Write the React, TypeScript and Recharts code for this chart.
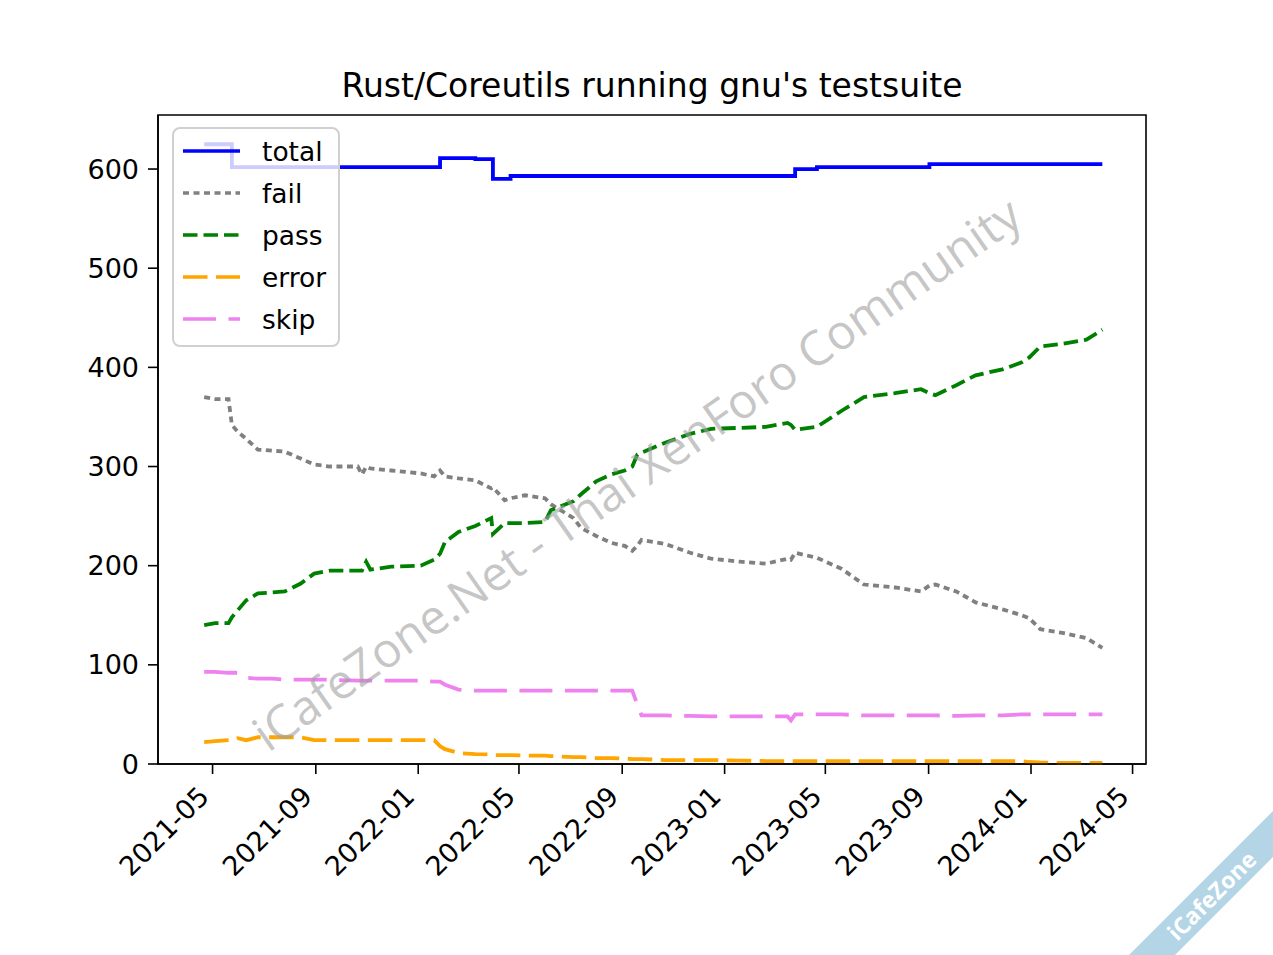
import { LineChart, Line, XAxis, YAxis, ReferenceArea } from "recharts";

const dates = [
  "2021-04-21", "2021-05-04", "2021-05-20", "2021-05-24", "2021-05-31", "2021-06-10",
  "2021-06-24", "2021-07-11", "2021-07-26", "2021-08-14", "2021-08-30", "2021-09-18",
  "2021-10-21", "2021-10-26", "2021-10-31", "2021-11-05", "2021-11-30", "2022-01-04",
  "2022-01-20", "2022-01-27", "2022-02-02", "2022-02-18", "2022-03-10", "2022-03-29",
  "2022-03-31", "2022-04-14", "2022-04-21", "2022-05-08", "2022-06-01", "2022-06-08",
  "2022-07-05", "2022-07-14", "2022-08-01", "2022-08-19", "2022-09-04", "2022-09-13",
  "2022-09-19", "2022-09-24", "2022-10-22", "2022-11-21", "2022-12-16", "2023-01-20",
  "2023-02-19", "2023-03-17", "2023-03-21", "2023-03-26", "2023-04-21", "2023-05-20",
  "2023-06-16", "2023-07-23", "2023-08-23", "2023-09-02", "2023-09-09", "2023-10-04",
  "2023-10-27", "2023-11-28", "2023-12-21", "2023-12-30", "2024-01-12", "2024-02-09",
  "2024-03-07", "2024-03-26",
];

const total = [
  625, 625, 625, 602, 602, 602, 602, 602, 602, 602, 602, 602, 602, 602, 602, 602, 602, 602,
  602, 611, 611, 611, 610, 610, 590, 590, 593, 593, 593, 593, 593, 593, 593, 593, 593, 593,
  593, 593, 593, 593, 593, 593, 593, 593, 593, 600, 602, 602, 602, 602, 602, 605, 605, 605,
  605, 605, 605, 605, 605, 605, 605, 605,
];

const fail = [
  370, 368, 368, 342, 335, 328, 317, 316, 315, 308, 302, 300, 300, 292, 300, 298, 296, 293,
  290, 296, 290, 288, 286, 278, 279, 266, 268, 271, 268, 262, 248, 238, 230, 223, 220, 215,
  220, 226, 222, 213, 207, 204, 202, 207, 206, 213, 208, 197, 181, 178, 174, 180, 181, 174,
  163, 156, 150, 147, 136, 132, 127, 117,
];

const pass = [
  140, 142, 142, 148, 155, 165, 172, 173, 174, 182, 192, 195, 195, 195, 204, 196, 199, 200,
  206, 212, 224, 234, 240, 248, 232, 243, 243, 243, 244, 256, 265, 272, 285, 292, 296, 300,
  312, 314, 324, 333, 338, 339, 340, 344, 342, 337, 340, 356, 370, 374, 378, 374, 372, 382,
  392, 398, 405, 410, 421, 424, 428, 438,
];

const error = [
  22, 23, 24, 24, 26, 24, 27, 27, 27, 27, 24, 24, 24, 24, 24, 24, 24, 24,
  24, 18, 15, 11, 10, 9.5, 9, 9, 9, 8.5, 8.5, 8, 7, 7, 6, 6, 5.5, 5,
  5, 5, 4, 4, 4, 3.5, 3, 3, 3, 3, 3, 3, 3, 3, 3, 3, 3, 3,
  3, 3, 3, 2, 1.5, 1, 1, 1,
];

const skip = [
  93, 93, 92, 92, 92, 87, 86, 86, 85, 85, 85, 85, 84, 84, 84, 84, 84, 84,
  83, 83, 80, 75, 74, 74, 74, 74, 74, 74, 74, 74, 74, 74, 74, 74, 74, 74,
  60, 49, 49, 48.5, 48, 48, 48, 48, 44, 50, 50, 50, 49, 49, 49, 49, 49, 48.5,
  49, 49, 50, 50, 50, 50, 50, 50,
];

const tickMonths = [
  "2021-05", "2021-09", "2022-01", "2022-05", "2022-09",
  "2023-01", "2023-05", "2023-09", "2024-01", "2024-05",
];
const yTicks = [0, 100, 200, 300, 400, 500, 600];

const data = dates.map((d, i) => ({
  t: Date.parse(d),
  total: total[i],
  fail: fail[i],
  pass: pass[i],
  error: error[i],
  skip: skip[i],
}));

const xTicks = tickMonths.map((m) => Date.parse(m + "-01"));
const xDomain = [Date.parse("2021-02-25"), Date.parse("2024-05-17")];
const yMax = 654.5;

const FONT = "'DejaVu Sans', sans-serif";

const series = [
  { key: "total", color: "#0000ff", dash: undefined },
  { key: "fail", color: "#808080", dash: "6 4.5" },
  { key: "pass", color: "#008000", dash: "14.5 6" },
  { key: "error", color: "#ffa500", dash: "24.5 8.5" },
  { key: "skip", color: "#ee82ee", dash: "33 12.5" },
];

function DateTick({ x, y, payload }: any) {
  const label = new Date(payload.value).toISOString().slice(0, 7);
  return (
    <text
      x={x - 2}
      y={y + 22}
      transform={`rotate(-45, ${x - 2}, ${y + 22})`}
      textAnchor="end"
      fontSize={27}
      fontFamily={FONT}
      fill="#000"
    >
      {label}
    </text>
  );
}

function LegendBox() {
  return (
    <svg width={170} height={222} style={{ position: "absolute", left: 171, top: 126 }}>
      <rect x={2} y={2} width={166} height={218} rx={7} fill="#fff" fillOpacity={0.8} stroke="#d0d0d0" strokeWidth={2} />
      {series.map((s, i) => (
        <g key={s.key}>
          <line
            x1={12}
            x2={69}
            y1={25 + i * 42}
            y2={25 + i * 42}
            stroke={s.color}
            strokeWidth={3.6}
            strokeDasharray={s.dash}
          />
          <text x={91} y={25 + i * 42 + 9.5} fontSize={26.5} fontFamily={FONT} fill="#000">
            {s.key}
          </text>
        </g>
      ))}
    </svg>
  );
}

export default function App() {
  return (
    <div style={{ position: "absolute", left: 0, top: 0, width: 1273, height: 955, background: "#fff" }}>
      <LineChart width={1273} height={955} data={data} margin={{ top: 115, right: 127, left: 0, bottom: 0 }}>
        <XAxis
          dataKey="t"
          type="number"
          domain={xDomain}
          ticks={xTicks}
          height={191}
          interval={0}
          tick={<DateTick />}
          tickSize={10}
          axisLine={{ stroke: "#000", strokeWidth: 1.6 }}
          tickLine={{ stroke: "#000", strokeWidth: 1.6 }}
        />
        <YAxis
          type="number"
          domain={[0, yMax]}
          ticks={yTicks}
          width={158}
          interval={0}
          tickSize={10}
          tickMargin={9}
          tick={{ fill: "#000", fontSize: 27, fontFamily: FONT }}
          axisLine={{ stroke: "#000", strokeWidth: 1.6 }}
          tickLine={{ stroke: "#000", strokeWidth: 1.6 }}
        />
        {series.map((s) => (
          <Line
            key={s.key}
            dataKey={s.key}
            type={s.key === "total" ? "stepAfter" : "linear"}
            stroke={s.color}
            strokeWidth={3.8}
            strokeDasharray={s.dash}
            dot={false}
            activeDot={false}
            isAnimationActive={false}
          />
        ))}
        <ReferenceArea
          x1={xDomain[0]}
          x2={xDomain[1]}
          y1={0}
          y2={yMax}
          fill="none"
          stroke="#000"
          strokeWidth={1.6}
          ifOverflow="visible"
        />
      </LineChart>

      <div
        style={{
          position: "absolute",
          left: 152,
          width: 1000,
          top: 66,
          textAlign: "center",
          fontFamily: FONT,
          fontSize: 33,
          color: "#000",
          lineHeight: "40px",
        }}
      >
        Rust/Coreutils running gnu's testsuite
      </div>

      <LegendBox />

      <svg width={1273} height={955} style={{ position: "absolute", left: 0, top: 0, pointerEvents: "none" }}>
        <text
          x={637}
          y={491}
          transform="rotate(-35, 637, 474)"
          textAnchor="middle"
          fontSize={48}
          fontFamily="'Open Sans', sans-serif"
          fill="#a0a0a0"
          fillOpacity={0.6}
        >
          iCafeZone.Net - Thai XenForo Community
        </text>
        <polygon points="1129,955 1273,811 1273,857 1175,955" fill="#b3d5e6" />
        <text
          x={1212}
          y={904}
          transform="rotate(-45, 1212, 896)"
          textAnchor="middle"
          fontSize={23}
          fontWeight="bold"
          fontFamily="'Open Sans', sans-serif"
          fill="#fff"
        >
          iCafeZone
        </text>
      </svg>
    </div>
  );
}
